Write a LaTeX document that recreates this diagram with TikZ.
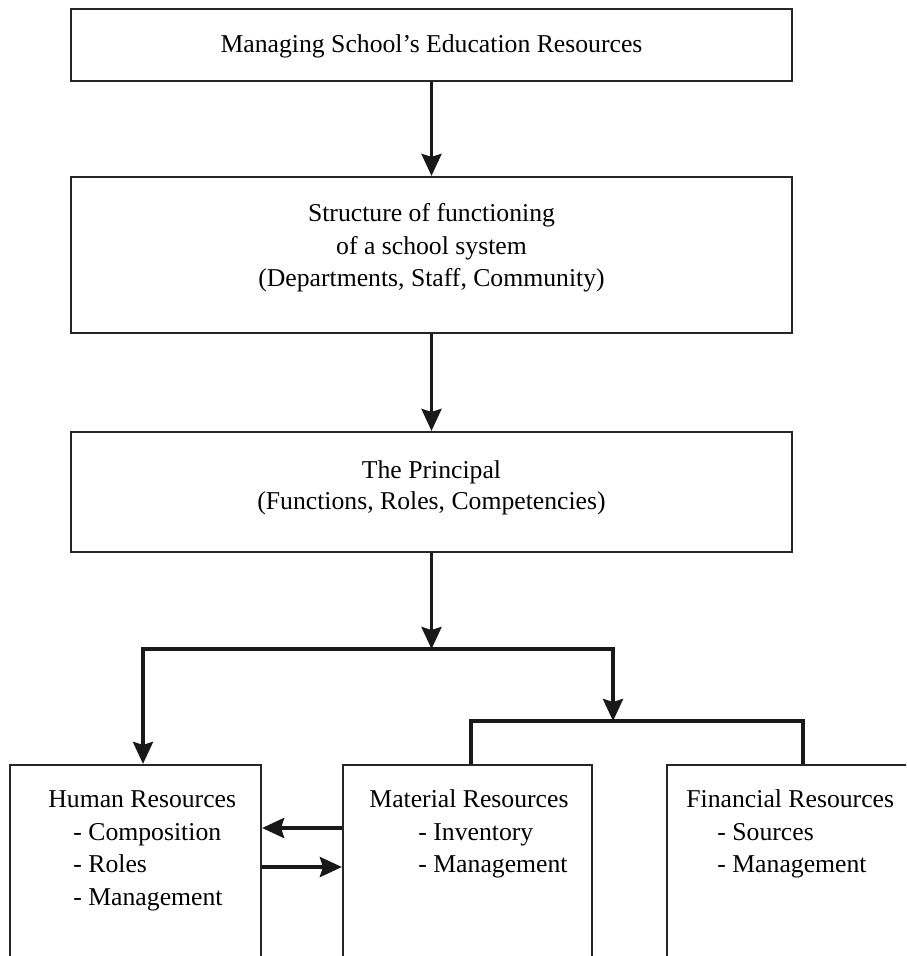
\documentclass[tikz,border=0pt]{standalone}
\usepackage{fontspec}
\setmainfont{Liberation Serif}
\usetikzlibrary{arrows.meta}
\begin{document}
\begin{tikzpicture}[x=0.5pt,y=-0.5pt,
  box/.style={draw=black!85,line width=1.1pt,rectangle,inner sep=0pt},
  conn/.style={line width=1.8pt,draw=black!90,line join=miter},
  arr/.style={conn,-{Stealth[length=11pt,width=10pt,inset=1.5pt]}},
  lbl/.style={inner sep=0pt,anchor=base,font=\fontsize{12.85pt}{16.5pt}\selectfont},
  lbll/.style={lbl,anchor=base west}]
\useasboundingbox (0,0) rectangle (906,956);
\clip (0,0) rectangle (906,956);
% boxes
\node[box,minimum width=360.5pt,minimum height=36pt] (A) at (431.5,45) {};
\node[box,minimum width=360.5pt,minimum height=78pt] (B) at (431.5,255) {};
\node[box,minimum width=360.5pt,minimum height=60pt] (C) at (431.5,492) {};
\node[box,minimum width=125.5pt,minimum height=107.5pt] (H) at (135.5,872.5) {};
\node[box,minimum width=124.5pt,minimum height=107.5pt] (M) at (467.5,872.5) {};
\node[box,minimum width=131.5pt,minimum height=107.5pt] (F) at (798.5,872.5) {};
% texts
\node[lbl] (tA) at (431.5,53) {Managing School’s Education Resources};
\node[lbl] (tB1) at (431.5,222) {Structure of functioning};
\node[lbl] (tB2) at (431.5,255) {of a school system};
\node[lbl] (tB3) at (431.5,287) {(Departments, Staff, Community)};
\node[lbl] (tC1) at (431.5,478) {The Principal};
\node[lbl] (tC2) at (431.5,509) {(Functions, Roles, Competencies)};
\node[lbll] (tH1) at (48,807) {Human Resources};
\node[lbll] (tH2) at (73,840) {- Composition};
\node[lbll] (tH3) at (73,872) {- Roles};
\node[lbll] (tH4) at (73,905) {- Management};
\node[lbll] (tM1) at (369,807) {Material Resources};
\node[lbll] (tM2) at (418,840) {- Inventory};
\node[lbll] (tM3) at (418,872) {- Management};
\node[lbll] (tF1) at (686,807) {Financial Resources};
\node[lbll] (tF2) at (717,840) {- Sources};
\node[lbll] (tF3) at (717,872) {- Management};
% junction coordinates
\coordinate (j1) at (431.5,649);
\coordinate (jL) at (143,649);
\coordinate (jR) at (613,649);
\coordinate (kL) at (471,721);
\coordinate (kR) at (803,721);
\coordinate (y1) at (0,828);
\coordinate (y2) at (0,867);
% connectors
\draw[arr] (A.south) -- (B.north);
\draw[arr] (B.south) -- (C.north);
\draw[arr] (C.south) -- (j1);
\draw[arr] (j1) -- (jL) -- (jL |- H.north);
\draw[arr] (j1) -- (jR) -- (jR |- kL);
\draw[conn] (kL |- M.north) -- (kL) -- (kR) -- (kR |- F.north);
\draw[arr] (M.west |- y1) -- (H.east |- y1);
\draw[arr] (H.east |- y2) -- (M.west |- y2);
\end{tikzpicture}
\end{document}
